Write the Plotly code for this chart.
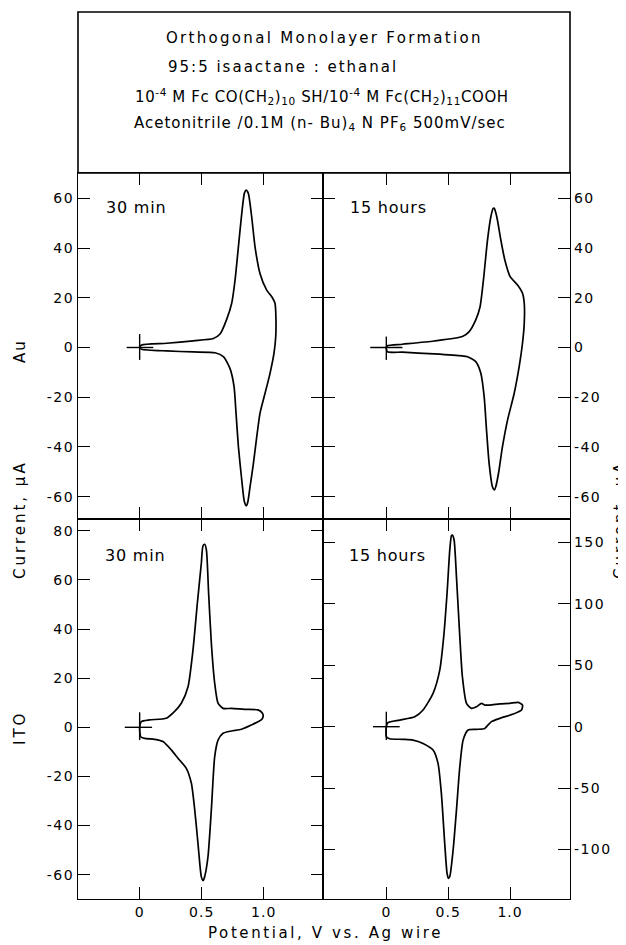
import plotly.graph_objects as go

FONT = "DejaVu Sans"

# ---------------- data ----------------
# Au electrode, 30 min  (potential V, current uA)
V_au30 = [0.0, 0.016, 0.218, 0.433, 0.594, 0.648, 0.70, 0.742, 0.769, 0.796, 0.823, 0.844, 0.858, 0.876,
          0.903, 0.93, 0.97, 1.024, 1.065, 1.091, 1.099, 1.097, 1.083, 1.051, 1.011, 0.97, 0.944, 0.917,
          0.89, 0.871, 0.86, 0.844, 0.823, 0.796, 0.777, 0.761, 0.728, 0.675, 0.608, 0.433, 0.218, 0.016, 0.0]
I_au30 = [0.0, 1.0, 1.7, 2.7, 3.6, 5.4, 11.1, 17.8, 27.1, 40.5, 53.9, 62.0, 63.3, 62.0,
          52.6, 40.5, 29.8, 23.1, 20.4, 17.8, 11.1, 4.4, -2.3, -10.4, -18.4, -26.5, -35.9, -46.6,
          -56.0, -62.4, -63.7, -62.0, -53.3, -39.9, -26.5, -15.7, -8.4, -3.7, -2.1, -1.8, -1.4, -0.7, 0.0]

# Au electrode, 15 hours
V_au15 = [0.0, 0.008, 0.13, 0.386, 0.615, 0.67, 0.723, 0.758, 0.785, 0.818, 0.845, 0.864, 0.872, 0.893,
          0.926, 0.958, 1.001, 1.061, 1.101, 1.115, 1.115, 1.101, 1.074, 1.034, 0.98, 0.939, 0.907,
          0.885, 0.875, 0.858, 0.831, 0.81, 0.791, 0.764, 0.723, 0.656, 0.615, 0.386, 0.13, 0.008, 0.0]
I_au15 = [0.0, 0.7, 1.3, 2.6, 4.4, 6.4, 11.1, 16.4, 27.1, 43.2, 52.6, 56.0, 56.0, 52.6,
          43.2, 35.2, 28.5, 25.1, 21.8, 17.8, 9.7, 1.7, -7.7, -18.4, -29.2, -39.9, -50.6,
          -56.0, -57.3, -56.0, -46.6, -33.2, -19.8, -10.4, -5.7, -3.7, -3.4, -2.6, -1.9, -1.7, 0.0]

# ITO electrode, 30 min
V_ito30 = [0.0, 0.013, 0.08, 0.215, 0.28, 0.336, 0.39, 0.43, 0.465, 0.497, 0.51, 0.524, 0.538, 0.556,
           0.578, 0.605, 0.632, 0.672, 0.74, 0.847, 0.954, 0.99, 0.995, 0.98, 0.90, 0.82, 0.74, 0.672,
           0.632, 0.605, 0.578, 0.551, 0.524, 0.511, 0.497, 0.47, 0.444, 0.417, 0.376, 0.309, 0.255,
           0.188, 0.121, 0.04, 0.008, 0.0]
I_ito30 = [0.0, 2.3, 3.0, 3.7, 6.4, 9.8, 16.5, 31.5, 50.5, 66.7, 73.8, 74.5, 72.2, 54.5,
           34.2, 17.9, 9.8, 7.7, 7.7, 7.3, 7.1, 5.7, 4.3, 3.0, 0.95, -0.8, -1.5, -2.4,
           -5.2, -11.9, -33.6, -52.6, -60.8, -62.4, -60.8, -47.2, -33.6, -22.8, -16.7, -12.6, -9.2,
           -5.8, -4.9, -4.5, -3.8, 0.0]

# ITO electrode, 15 hours (right-hand current scale)
V_ito15 = [0.0, 0.013, 0.108, 0.23, 0.297, 0.378, 0.432, 0.464, 0.491, 0.513, 0.526, 0.534, 0.548,
           0.567, 0.594, 0.615, 0.648, 0.688, 0.729, 0.769, 0.796, 0.837, 0.918, 0.999, 1.066, 1.101,
           1.093, 1.026, 0.918, 0.85, 0.823, 0.796, 0.729, 0.661, 0.621, 0.594, 0.567, 0.54, 0.513,
           0.502, 0.491, 0.472, 0.445, 0.418, 0.378, 0.297, 0.216, 0.135, 0.027, 0.0, 0.0]
I_ito15 = [0.0, 3.3, 5.4, 8.1, 13.6, 27.1, 46.0, 73.3, 108.6, 143.9, 155.3, 156.0, 152.0,
           122.0, 73.3, 40.7, 19.0, 14.9, 16.3, 19.0, 17.6, 17.6, 18.5, 19.0, 19.8, 17.6,
           13.6, 10.3, 6.8, 4.1, 1.4, -1.4, -2.2, -2.7, -10.9, -32.6, -67.9, -100.4, -122.0,
           -123.5, -119.4, -95.0, -54.3, -29.9, -19.0, -13.6, -10.9, -10.3, -9.8, -8.1, 0.0]

# start-point crosses: (potential extent, current extent)
cross_au30 = ([-0.105, 0.11], [-5.0, 5.4])
cross_au15 = ([-0.13, 0.13], [-5.0, 4.4])
cross_ito30 = ([-0.12, 0.10], [-5.2, 6.1])
cross_ito15 = ([-0.108, 0.108], [-10.9, 12.2])

# tick labels
x_tickvals = [0, 0.5, 1.0]
x_ticktext = ["0", "0.5", "1.0"]
au_tickvals = [-60, -40, -20, 0, 20, 40, 60]
au_ticktext = ["-60", "-40", "-20", "0", "20", "40", "60"]
ito_left_tickvals = [-60, -40, -20, 0, 20, 40, 60, 80]
ito_left_ticktext = ["-60", "-40", "-20", "0", "20", "40", "60", "80"]
ito_right_tickvals = [-100, -50, 0, 50, 100, 150]
ito_right_ticktext = ["-100", "-50", "0", "50", "100", "150"]

title_lines = [
    "Orthogonal Monolayer Formation",
    "95:5 isaactane : ethanal",
    "10<sup>-4</sup> M Fc CO(CH<sub>2</sub>)<sub>10</sub> SH/10<sup>-4</sup> M Fc(CH<sub>2</sub>)<sub>11</sub>COOH",
    "Acetonitrile /0.1M (n- Bu)<sub>4</sub> N PF<sub>6</sub> 500mV/sec",
]
panel_labels = ["30 min", "15 hours", "30 min", "15 hours"]


def sp(t, ls):
    return f'<span style="letter-spacing:{ls}px">{t}</span>'


# ---------------- figure ----------------
fig = go.Figure()
panels = [
    ("x", "y", V_ito30, I_ito30, cross_ito30),
    ("x2", "y2", V_ito15, I_ito15, cross_ito15),
    ("x3", "y3", V_au30, I_au30, cross_au30),
    ("x4", "y4", V_au15, I_au15, cross_au15),
]
for xa, ya, v, i, cr in panels:
    fig.add_trace(go.Scatter(x=v, y=i, xaxis=xa, yaxis=ya, mode="lines",
                             line=dict(color="black", width=1.7, shape="spline", smoothing=0.6),
                             hoverinfo="skip", showlegend=False))
    fig.add_trace(go.Scatter(x=[cr[0][0], cr[0][1], None, 0, 0], y=[0, 0, None, cr[1][0], cr[1][1]],
                             xaxis=xa, yaxis=ya, mode="lines",
                             line=dict(color="black", width=1.4),
                             hoverinfo="skip", showlegend=False))

tickfont = dict(family=FONT, size=14, color="black")
common = dict(showline=True, linecolor="black", linewidth=1.2, mirror="ticks", ticks="inside",
              ticklen=12, tickwidth=1.3, tickcolor="black", showgrid=False, zeroline=False,
              tickfont=tickfont, tickmode="array", fixedrange=True)

xsplit = 245 / 492
ysplit = 380 / 726
xr_left = [-0.497, 1.478]
xr_right = [-0.512, 1.485]

# the page body has an 8 px margin, so the figure is 8 px smaller than the window
fig.update_layout(
    width=618, height=937,
    margin=dict(l=70, r=56, t=165, b=46, pad=0),
    paper_bgcolor="white", plot_bgcolor="white",
    showlegend=False,
    xaxis=dict(common, domain=[0, xsplit], range=xr_left, anchor="y",
               tickvals=x_tickvals, ticktext=[sp(t, 1) for t in x_ticktext]),
    xaxis2=dict(common, domain=[xsplit, 1], range=xr_right, anchor="y2",
                tickvals=x_tickvals, ticktext=[sp(t, 1) for t in x_ticktext]),
    xaxis3=dict(common, domain=[0, xsplit], range=xr_left, anchor="y3",
                tickvals=x_tickvals, showticklabels=False),
    xaxis4=dict(common, domain=[xsplit, 1], range=xr_right, anchor="y4",
                tickvals=x_tickvals, showticklabels=False),
    yaxis=dict(common, domain=[0, ysplit], range=[-69.9, 84.8], anchor="x",
               tickvals=ito_left_tickvals, ticktext=[sp(t, 1.5) for t in ito_left_ticktext]),
    yaxis2=dict(common, domain=[0, ysplit], range=[-140.3, 169.1], anchor="x2", side="right",
                tickvals=ito_right_tickvals, ticktext=[sp(t, 1.5) for t in ito_right_ticktext]),
    yaxis3=dict(common, domain=[ysplit, 1], range=[-69.0, 70.2], anchor="x3",
                tickvals=au_tickvals, ticktext=[sp(t, 1.5) for t in au_ticktext]),
    yaxis4=dict(common, domain=[ysplit, 1], range=[-69.0, 70.2], anchor="x4", side="right",
                tickvals=au_tickvals, ticktext=[sp(t, 1.5) for t in au_ticktext]),
)

# title box
fig.add_shape(type="rect", xref="paper", yref="paper", x0=0, x1=1, y0=1, y1=(899 - 12) / 726,
              line=dict(color="black", width=1.6))


def px_x(X):
    return (X - 78) / 492


def px_y(Y):
    return (899 - Y) / 726


ann = []
tf = dict(family=FONT, size=15, color="black")
ann.append(dict(text=sp(title_lines[0], 2.3), x=px_x(324), y=px_y(38), xanchor="center", yanchor="middle"))
ann.append(dict(text=sp(title_lines[1], 2.0), x=px_x(166), y=px_y(67), xanchor="left", yanchor="middle"))
ann.append(dict(text=sp(title_lines[2], 0.6), x=px_x(322), y=px_y(96), xanchor="center", yanchor="middle"))
ann.append(dict(text=sp(title_lines[3], 1.0), x=px_x(320), y=px_y(123), xanchor="center", yanchor="middle"))

pl_font = dict(family=FONT, size=16, color="black")
for lab, X, Y in zip(panel_labels, [104, 348, 103, 347], [207, 207, 555, 555]):
    ann.append(dict(text=sp(lab, 0.8), x=px_x(X), y=px_y(Y), xanchor="left", yanchor="middle", font=pl_font))

side_font = dict(family=FONT, size=15, color="black")
ann.append(dict(text=sp("Au", 2), x=px_x(20), y=px_y(351), textangle=-90, xanchor="center", yanchor="middle", font=side_font))
ann.append(dict(text=sp("ITO", 3), x=px_x(20), y=px_y(728), textangle=-90, xanchor="center", yanchor="middle", font=side_font))
ann.append(dict(text=sp("Current, μA", 3), x=px_x(20), y=px_y(520), textangle=-90, xanchor="center", yanchor="middle", font=side_font))
ann.append(dict(text=sp("Current, μA", 3), x=px_x(620), y=px_y(520), textangle=-90, xanchor="center", yanchor="middle", font=side_font))
ann.append(dict(text=sp("Potential, V vs. Ag wire", 2.6), x=px_x(325), y=px_y(933), xanchor="center", yanchor="middle",
                font=dict(family=FONT, size=15, color="black")))

for a in ann:
    a.setdefault("font", tf)
    a.update(xref="paper", yref="paper", showarrow=False)
    fig.add_annotation(**a)

fig.write_html("out.html")
